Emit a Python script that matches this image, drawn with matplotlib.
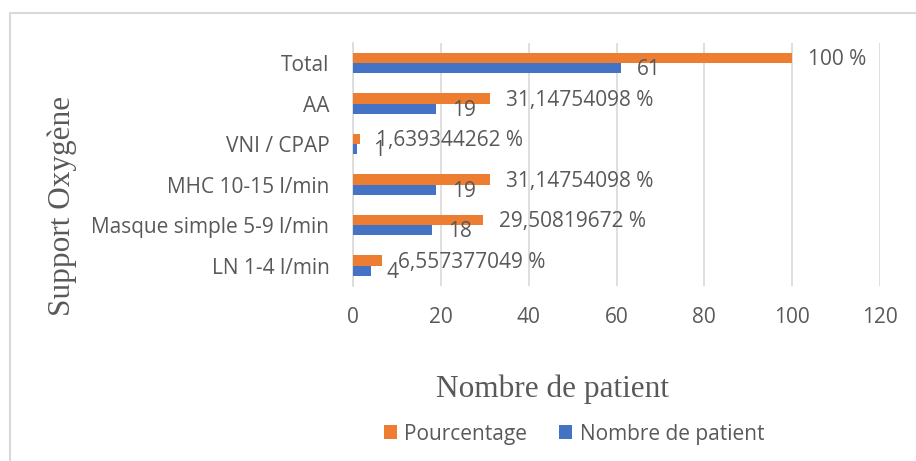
import matplotlib
matplotlib.use('Agg')
import matplotlib.pyplot as plt
import numpy as np

# data (bottom to top)
categories = ['LN 1-4 l/min', 'Masque simple 5-9 l/min', 'MHC 10-15 l/min',
              'VNI / CPAP', 'AA', 'Total']
nombre = [4, 18, 19, 1, 19, 61]
pourcentage = [6.557377049, 29.50819672, 31.14754098, 1.639344262, 31.14754098, 100]
xticks = [0, 20, 40, 60, 80, 100, 120]

orange = '#ED7D31'
blue = '#4472C4'
grey_txt = '#595959'
grid_col = '#D9D9D9'

plt.rcParams['font.family'] = ['Open Sans', 'DejaVu Sans']

fig = plt.figure(figsize=(9.16, 4.61), dpi=100)
ax = fig.add_axes([353/916, 1-286/461, 527/916, 243.3/461])

y = np.arange(len(categories))
h = 0.253
ax.barh(y + h/2, pourcentage, height=h, color=orange, label='Pourcentage', zorder=3)
ax.barh(y - h/2, nombre, height=h, color=blue, label='Nombre de patient', zorder=3)

# data labels
fs = 15
for yi, p, n in zip(y, pourcentage, nombre):
    s = '{:.10g}'.format(p).replace('.', ',') + ' %'
    ax.annotate(s, (p, yi + h/2), xytext=(11.5, -1.2), textcoords='offset points',
                va='center', ha='left', fontsize=fs, color=grey_txt)
    ax.annotate(str(n), (n, yi - h/2), xytext=(11.5, -1.2), textcoords='offset points',
                va='center', ha='left', fontsize=fs, color=grey_txt)

ax.set_xlim(0, 120)
ax.set_ylim(-0.5, len(categories) - 0.5)
ax.set_xticks(xticks)
ax.set_yticks(y)
ax.set_yticklabels(categories)
ax.tick_params(axis='both', length=0, labelsize=fs, labelcolor=grey_txt)
ax.tick_params(axis='y', pad=17)
ax.tick_params(axis='x', pad=15)
ax.grid(axis='x', color=grid_col, linewidth=1.2, zorder=0)
for sp in ['top', 'right', 'bottom']:
    ax.spines[sp].set_visible(False)
ax.spines['left'].set_color(grid_col)
ax.spines['left'].set_linewidth(1.2)

# axis titles
fig.text(552/916, 1-389/461, 'Nombre de patient', family='Liberation Serif',
         fontsize=22.5, color=grey_txt, ha='center', va='center')
fig.text(62/916, 1-206/461, 'Support Oxygène', family='Liberation Serif',
         fontsize=22.5, color=grey_txt, ha='center', va='center', rotation=90)

fig.legend(loc='center', bbox_to_anchor=(574/916, 1-434/461), ncol=2, frameon=False,
           fontsize=fs, labelcolor=grey_txt, handlelength=0.62, handleheight=0.62,
           handletextpad=0.35, columnspacing=1.55)

# chart border
fig.add_artist(plt.Rectangle((10/916, -0.1), 1.2, 1-13/461+0.1, transform=fig.transFigure,
                             fill=False, edgecolor=grid_col, linewidth=1.5))

fig.savefig('out.png', dpi=100, facecolor='white')
